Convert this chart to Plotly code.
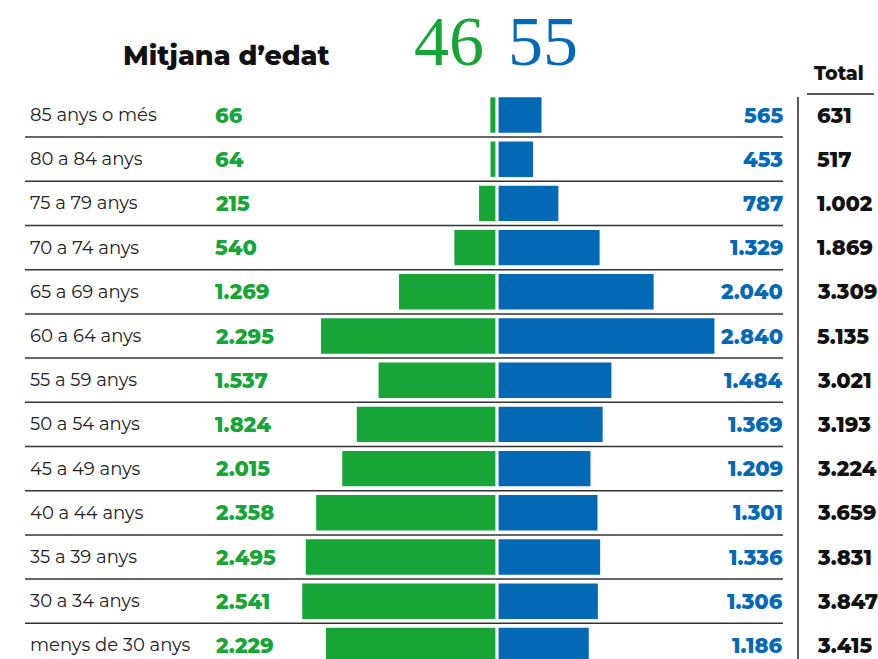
import plotly.graph_objects as go

# Age groups, top to bottom
age_groups = ['85 anys o més', '80 a 84 anys', '75 a 79 anys', '70 a 74 anys',
              '65 a 69 anys', '60 a 64 anys', '55 a 59 anys', '50 a 54 anys',
              '45 a 49 anys', '40 a 44 anys', '35 a 39 anys', '30 a 34 anys',
              'menys de 30 anys']
green_values = [66, 64, 215, 540, 1269, 2295, 1537, 1824, 2015, 2358, 2495, 2541, 2229]
blue_values = [565, 453, 787, 1329, 2040, 2840, 1484, 1369, 1209, 1301, 1336, 1306, 1186]
totals = [631, 517, 1002, 1869, 3309, 5135, 3021, 3193, 3224, 3659, 3831, 3847, 3415]
mean_age_green = 46
mean_age_blue = 55

GREEN = '#17a538'
BLUE = '#0469b4'
W, H = 878, 659

# pixel geometry of the layout
CENTER_PX = 497
PX_PER_UNIT = 0.076
GAP = 1.6 / PX_PER_UNIT
ROW0_PX = 115
ROW_PX = 44.2


def fmt(v):
    return f'{v:,}'.replace(',', '.')


def px(x):
    return x / W


def py(y):
    return 1 - y / H


fig = go.Figure()

fig.add_trace(go.Bar(
    y=age_groups, x=[-v for v in green_values], base=-GAP,
    orientation='h', marker=dict(color=GREEN, line=dict(width=0)),
    width=0.8, hoverinfo='skip'
))
fig.add_trace(go.Bar(
    y=age_groups, x=blue_values, base=GAP,
    orientation='h', marker=dict(color=BLUE, line=dict(width=0)),
    width=0.8, hoverinfo='skip'
))

label_font = dict(family='Montserrat, Open Sans, sans-serif', size=18, color='#222')
num_font = dict(family='Montserrat, Open Sans, sans-serif', size=21, weight=800)

for i, age in enumerate(age_groups):
    fig.add_annotation(x=px(28), y=i, xref='paper', yref='y', text=age,
                       xanchor='left', yanchor='middle', showarrow=False, font=label_font)
    fig.add_annotation(x=px(213), y=i, xref='paper', yref='y', text=fmt(green_values[i]),
                       xanchor='left', yanchor='middle', showarrow=False,
                       font=dict(num_font, color=GREEN))
    fig.add_annotation(x=px(785), y=i, xref='paper', yref='y', text=fmt(blue_values[i]),
                       xanchor='right', yanchor='middle', showarrow=False,
                       font=dict(num_font, color=BLUE))
    fig.add_annotation(x=px(815), y=i, xref='paper', yref='y', text=fmt(totals[i]),
                       xanchor='left', yanchor='middle', showarrow=False,
                       font=dict(num_font, color='#111'))

# row separators
for i in range(len(age_groups) - 1):
    fig.add_shape(type='line', xref='paper', yref='y', x0=px(25), x1=px(783),
                  y0=i + 0.5, y1=i + 0.5, line=dict(color='#333', width=1.5))

# totals column rule and header underline
fig.add_shape(type='line', xref='paper', yref='paper', x0=px(798), x1=px(798),
              y0=py(97), y1=0, line=dict(color='#222', width=1.5))
fig.add_shape(type='line', xref='paper', yref='paper', x0=px(807), x1=px(874),
              y0=py(94), y1=py(94), line=dict(color='#222', width=1.5))
fig.add_annotation(x=px(839), y=py(74), xref='paper', yref='paper', text='Total',
                   xanchor='center', yanchor='middle', showarrow=False,
                   font=dict(num_font, size=19, color='#111'))

# title and mean ages
fig.add_annotation(x=px(226), y=py(55), xref='paper', yref='paper', text='Mitjana d’edat',
                   xanchor='center', yanchor='middle', showarrow=False,
                   font=dict(num_font, size=27, color='#111'))
fig.add_annotation(x=px(449), y=py(41), xref='paper', yref='paper', text=str(mean_age_green),
                   xanchor='center', yanchor='middle', showarrow=False,
                   font=dict(family='Liberation Serif, serif', size=70, color=GREEN))
fig.add_annotation(x=px(543), y=py(41), xref='paper', yref='paper', text=str(mean_age_blue),
                   xanchor='center', yanchor='middle', showarrow=False,
                   font=dict(family='Liberation Serif, serif', size=70, color=BLUE))

x_lo = -CENTER_PX / PX_PER_UNIT
x_hi = (W - CENTER_PX) / PX_PER_UNIT
y_top = -ROW0_PX / ROW_PX
y_bot = (H - ROW0_PX) / ROW_PX

fig.update_layout(
    width=W, height=H,
    margin=dict(l=0, r=0, t=0, b=0),
    paper_bgcolor='white', plot_bgcolor='white',
    showlegend=False, barmode='overlay',
    xaxis=dict(range=[x_lo, x_hi], visible=False, fixedrange=True),
    yaxis=dict(range=[y_bot, y_top], visible=False, fixedrange=True,
               type='category', categoryorder='array', categoryarray=age_groups),
)

# drop the browser's default page margin so the figure sits at the top-left corner
fig.write_html('out.html', config={'displayModeBar': False},
               post_script="document.body.style.margin='0';")
